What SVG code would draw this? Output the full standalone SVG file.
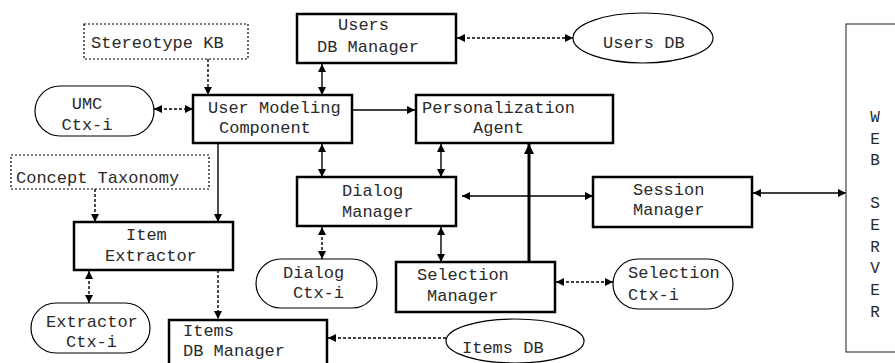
<svg xmlns="http://www.w3.org/2000/svg" width="895" height="363" viewBox="0 0 895 363">
<defs>
<style>
text{font-family:"Liberation Mono","Courier New",monospace;font-size:17px;fill:#2a2a2a}
.box{fill:#fff;stroke:#000;stroke-width:2.5}
.dot{fill:#fff;stroke:#000;stroke-width:1.2;stroke-dasharray:2,2}
.rnd{fill:#fff;stroke:#000;stroke-width:1.2}
.ws{fill:#fff;stroke:#444;stroke-width:1.2}
.ln{fill:none;stroke:#000;stroke-width:1.4}
.dl{fill:none;stroke:#000;stroke-width:1.4;stroke-dasharray:3,2}
.thick{fill:none;stroke:#000;stroke-width:3}
.wl{font-size:16px;text-anchor:middle}
.c{text-anchor:middle}
</style>
<marker id="ah" viewBox="0 0 10 10" refX="10" refY="5" markerWidth="9" markerHeight="8" markerUnits="userSpaceOnUse" orient="auto-start-reverse"><path d="M0,0 L10,5 L0,10 z" fill="#000"/></marker>
<marker id="ahb" viewBox="0 0 10 10" refX="10" refY="5" markerWidth="12" markerHeight="10" markerUnits="userSpaceOnUse" orient="auto"><path d="M0,0 L10,5 L0,10 z" fill="#000"/></marker>
</defs>

<g id="connectors">
<line class="dl" x1="208" y1="59" x2="208" y2="95" marker-end="url(#ah)"/>
<line class="dl" x1="154" y1="109" x2="193" y2="109" marker-start="url(#ah)" marker-end="url(#ah)"/>
<line class="ln" x1="322" y1="64" x2="322" y2="95" marker-start="url(#ah)" marker-end="url(#ah)"/>
<line class="dl" x1="457" y1="38" x2="573" y2="38" marker-start="url(#ah)" marker-end="url(#ah)"/>
<line class="ln" x1="352" y1="110" x2="415" y2="110" marker-end="url(#ah)"/>
<line class="ln" x1="322" y1="144" x2="322" y2="177" marker-start="url(#ah)" marker-end="url(#ah)"/>
<line class="ln" x1="441" y1="144" x2="441" y2="177" marker-start="url(#ah)" marker-end="url(#ah)"/>
<line class="dl" x1="95" y1="189" x2="95" y2="222" marker-end="url(#ah)"/>
<line class="ln" x1="218" y1="143" x2="218" y2="222" marker-end="url(#ah)"/>
<line class="dl" x1="89" y1="271" x2="89" y2="303" marker-start="url(#ah)" marker-end="url(#ah)"/>
<line class="dl" x1="218" y1="270" x2="218" y2="319" marker-end="url(#ah)"/>
<line class="ln" x1="462" y1="196" x2="593" y2="196" marker-start="url(#ah)" marker-end="url(#ah)"/>
<line class="thick" x1="529" y1="262" x2="529" y2="144" marker-end="url(#ahb)"/>
<line class="dl" x1="322" y1="227" x2="322" y2="259" marker-start="url(#ah)" marker-end="url(#ah)"/>
<line class="ln" x1="441" y1="227" x2="441" y2="262" marker-start="url(#ah)" marker-end="url(#ah)"/>
<line class="dl" x1="556" y1="282" x2="613" y2="282" marker-start="url(#ah)" marker-end="url(#ah)"/>
<line class="dl" x1="446" y1="338" x2="328" y2="338" marker-end="url(#ah)"/>
<line class="ln" x1="753" y1="193" x2="846" y2="193" marker-start="url(#ah)" marker-end="url(#ah)"/>
</g>

<g id="stereotype-kb">
<rect class="dot" x="84" y="24" width="164" height="35"/>
<text x="91" y="48">Stereotype KB</text>
</g>

<g id="umc-ctx">
<rect class="rnd" x="35" y="86" width="119" height="50" rx="25" ry="25"/>
<text class="c" x="87" y="109">UMC</text>
<text class="c" x="87" y="130">Ctx-i</text>
</g>

<g id="user-modeling">
<rect class="box" x="193" y="95" width="159" height="48"/>
<text x="208" y="113">User Modeling</text>
<text x="219" y="133">Component</text>
</g>

<g id="users-db-manager">
<rect class="box" x="297" y="14" width="159" height="49"/>
<text x="338" y="30">Users</text>
<text x="317" y="52">DB Manager</text>
</g>

<g id="users-db">
<ellipse class="rnd" cx="643" cy="38" rx="70" ry="25"/>
<text x="603" y="48">Users DB</text>
</g>

<g id="personalization-agent">
<rect class="box" x="416" y="95" width="197" height="48"/>
<text x="422" y="113">Personalization</text>
<text x="473" y="133">Agent</text>
</g>

<g id="concept-taxonomy">
<rect class="dot" x="11" y="155" width="198" height="34"/>
<text x="16" y="183">Concept Taxonomy</text>
</g>

<g id="dialog-manager">
<rect class="box" x="297" y="177" width="159" height="49"/>
<text x="342" y="196">Dialog</text>
<text x="342" y="217">Manager</text>
</g>

<g id="session-manager">
<rect class="box" x="593" y="177" width="159" height="50"/>
<text x="633" y="195">Session</text>
<text x="633" y="215">Manager</text>
</g>

<g id="item-extractor">
<rect class="box" x="74" y="222" width="159" height="48"/>
<text x="126" y="240">Item</text>
<text x="105" y="261">Extractor</text>
</g>

<g id="dialog-ctx">
<rect class="rnd" x="256" y="259" width="121" height="49" rx="25" ry="25"/>
<text x="283" y="278">Dialog</text>
<text x="293" y="298">Ctx-i</text>
</g>

<g id="selection-manager">
<rect class="box" x="396" y="262" width="159" height="50"/>
<text x="417" y="280">Selection</text>
<text x="427" y="301">Manager</text>
</g>

<g id="selection-ctx">
<rect class="rnd" x="613" y="259" width="120" height="50" rx="25" ry="25"/>
<text x="628" y="278">Selection</text>
<text x="628" y="300">Ctx-i</text>
</g>

<g id="extractor-ctx">
<rect class="rnd" x="31" y="303" width="119" height="50" rx="25" ry="25"/>
<text x="46" y="327">Extractor</text>
<text x="66" y="347">Ctx-i</text>
</g>

<g id="items-db-manager">
<rect class="box" x="169" y="320" width="158" height="50"/>
<text x="183" y="336">Items</text>
<text x="183" y="356">DB Manager</text>
</g>

<g id="items-db">
<ellipse class="rnd" cx="515" cy="341" rx="69" ry="22"/>
<text x="462" y="353">Items DB</text>
</g>

<g id="web-server">
<rect class="ws" x="846" y="24" width="60" height="328"/>
<text class="wl" x="875" y="122">W</text>
<text class="wl" x="875" y="144">E</text>
<text class="wl" x="875" y="165">B</text>
<text class="wl" x="875" y="208">S</text>
<text class="wl" x="875" y="230">E</text>
<text class="wl" x="875" y="252">R</text>
<text class="wl" x="875" y="273">V</text>
<text class="wl" x="875" y="295">E</text>
<text class="wl" x="875" y="317">R</text>
</g>
</svg>
